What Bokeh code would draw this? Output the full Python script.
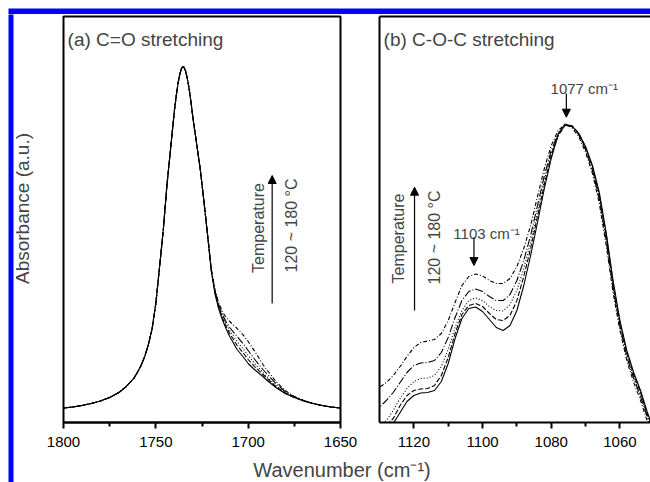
import math
from bokeh.plotting import figure
from bokeh.models import (Range1d, FixedTicker, Label, Arrow, NormalHead,
                          BoxAnnotation, LinearAxis, ColumnDataSource)
from bokeh.layouts import column, row
from bokeh.embed import file_html
from bokeh.resources import INLINE

FONT = "Liberation Sans"
BLUE = "#0000ff"

# ---------------- data: panel (a) C=O stretching ----------------
TEMPS = ["120 °C", "135 °C", "150 °C", "165 °C", "180 °C"]

WN_A_HEAD = [1800, 1795, 1790, 1785, 1780, 1775, 1770, 1766, 1762, 1760, 1758,
             1756, 1754, 1752, 1750, 1748, 1746, 1744, 1742, 1740, 1739, 1738,
             1737, 1736, 1735, 1734, 1733, 1732, 1731, 1730, 1728, 1726, 1724, 1722]
A_HEAD = [0.145, 0.155, 0.17, 0.19, 0.215, 0.25, 0.30, 0.36, 0.44, 0.50, 0.57,
          0.66, 0.78, 0.94, 1.19, 1.55, 1.92, 2.37, 2.74, 3.11, 3.26, 3.39,
          3.485, 3.545, 3.56, 3.52, 3.445, 3.34, 3.21, 3.06, 2.80, 2.54, 2.22, 1.88]

WN_A_SHOULDER = [1720, 1718, 1716, 1714, 1712, 1710, 1706, 1702, 1700, 1696,
                 1692, 1690, 1685, 1680, 1675, 1670]
A_SH_120 = [1.52, 1.29, 1.14, 1.03, 0.94, 0.86, 0.73, 0.64, 0.59, 0.52, 0.46, 0.425, 0.35, 0.29, 0.25, 0.215]
A_SH_135 = [1.52, 1.30, 1.155, 1.05, 0.965, 0.89, 0.77, 0.68, 0.63, 0.55, 0.48, 0.445, 0.36, 0.295, 0.25, 0.217]
A_SH_150 = [1.53, 1.31, 1.17, 1.07, 0.99, 0.92, 0.81, 0.72, 0.67, 0.58, 0.50, 0.46, 0.37, 0.30, 0.255, 0.218]
A_SH_165 = [1.53, 1.32, 1.18, 1.08, 1.01, 0.95, 0.86, 0.77, 0.72, 0.62, 0.53, 0.49, 0.39, 0.31, 0.255, 0.22]
A_SH_180 = [1.54, 1.33, 1.20, 1.11, 1.05, 1.01, 0.94, 0.86, 0.81, 0.70, 0.58, 0.53, 0.41, 0.32, 0.26, 0.22]

WN_A_TAIL = [1665, 1660, 1655, 1650]
A_TAIL = [0.19, 0.17, 0.155, 0.145]

# ---------------- data: panel (b) C-O-C stretching ----------------
WN_B = [1132, 1130, 1128, 1126, 1124, 1122, 1120, 1118, 1116, 1114, 1112, 1110,
        1108, 1106, 1104, 1102, 1100, 1098, 1096, 1094, 1092, 1090, 1088, 1086,
        1084, 1082, 1080, 1078, 1076, 1074, 1072, 1070, 1068, 1066, 1064, 1062,
        1060, 1058, 1056, 1054, 1052, 1050]
B_120 = [-0.28, -0.18, -0.08, -0.01, 0.10, 0.21, 0.27, 0.295, 0.30, 0.32, 0.41, 0.59,
         0.84, 1.04, 1.14, 1.155, 1.11, 1.03, 0.95, 0.92, 0.97, 1.12, 1.37, 1.67,
         2.00, 2.34, 2.64, 2.88, 2.985, 2.965, 2.89, 2.76, 2.57, 2.30, 1.90, 1.42,
         1.02, 0.72, 0.50, 0.32, 0.10, -0.08]
B_135 = [-0.18, -0.10, -0.03, 0.04, 0.17, 0.27, 0.32, 0.335, 0.34, 0.37, 0.47, 0.65,
         0.89, 1.08, 1.17, 1.19, 1.16, 1.09, 1.03, 1.02, 1.07, 1.22, 1.46, 1.74,
         2.06, 2.38, 2.67, 2.865, 2.97, 2.97, 2.895, 2.75, 2.555, 2.28, 1.875, 1.395,
         1.00, 0.70, 0.48, 0.30, 0.085, -0.10]
B_150 = [-0.12, -0.04, 0.02, 0.12, 0.24, 0.34, 0.41, 0.44, 0.445, 0.47, 0.56, 0.73,
         0.95, 1.12, 1.22, 1.245, 1.22, 1.16, 1.12, 1.115, 1.18, 1.32, 1.54, 1.80,
         2.11, 2.42, 2.69, 2.875, 2.97, 2.965, 2.89, 2.74, 2.54, 2.26, 1.85, 1.37,
         0.98, 0.68, 0.46, 0.28, 0.07, -0.12]
B_165 = [0.10, 0.153, 0.22, 0.30, 0.40, 0.50, 0.57, 0.595, 0.60, 0.62, 0.70, 0.85,
         1.05, 1.22, 1.31, 1.335, 1.31, 1.26, 1.22, 1.22, 1.28, 1.42, 1.62, 1.87,
         2.17, 2.47, 2.72, 2.89, 2.975, 2.96, 2.88, 2.73, 2.52, 2.23, 1.82, 1.34,
         0.96, 0.66, 0.44, 0.26, 0.05, -0.14]
B_180 = [0.31, 0.353, 0.40, 0.47, 0.56, 0.66, 0.75, 0.80, 0.815, 0.83, 0.89, 1.02,
         1.20, 1.37, 1.46, 1.485, 1.465, 1.42, 1.39, 1.39, 1.44, 1.56, 1.74, 1.97,
         2.26, 2.54, 2.77, 2.92, 2.98, 2.95, 2.86, 2.70, 2.49, 2.19, 1.77, 1.30,
         0.92, 0.62, 0.40, 0.22, 0.01, -0.18]

TICKS_A = [1800, 1750, 1700, 1650]
MINOR_A = [1775, 1725, 1675]
TICKS_B = [1120, 1100, 1080, 1060]
MINOR_B = [1110, 1090, 1070]

DASHES = ["solid", "5 2", "1 2", "8 2 1 2", "4 2 1 2"]


def strip(w, h):
    f = figure(width=w, height=h, x_range=Range1d(0, w), y_range=Range1d(0, h),
               output_backend="svg", toolbar_location=None, x_axis_type=None,
               y_axis_type=None, min_border=0)
    f.xgrid.visible = False
    f.ygrid.visible = False
    f.outline_line_color = None
    return f


def blue_box(left, right, bottom, top):
    return BoxAnnotation(left=left, right=right, bottom=bottom, top=top,
                         fill_color=BLUE, fill_alpha=1, line_alpha=0)


# ---------------- top strip (blue bar), full width ----------------
ft = strip(650, 14)
ft.add_layout(blue_box(8, 660, -2, 6))

# ---------------- left strip (blue bar + y label) ----------------
fy = strip(45, 468)
fy.add_layout(blue_box(8, 13, -5, 475))
fy.add_layout(Label(x=22.4, y=274, text="Absorbance (a.u.)", angle=math.pi / 2,
                    text_font=FONT, text_font_size="19px", text_align="center",
                    text_baseline="middle"))

# ---------------- panels ----------------
fa = figure(width=315, height=436, x_range=Range1d(1800, 1650), y_range=Range1d(0, 4.06),
            output_backend="svg", toolbar_location=None,
            min_border_left=18, min_border_right=20, min_border_top=2, min_border_bottom=28)
fb = figure(width=290, height=436, x_range=Range1d(1130, 1051.1), y_range=Range1d(0, 4.06),
            output_backend="svg", toolbar_location=None,
            min_border_left=19, min_border_right=0, min_border_top=2, min_border_bottom=28)

for p in (fa, fb):
    p.xgrid.visible = False
    p.ygrid.visible = False
    p.background_fill_color = "white"
    p.border_fill_color = "white"
    xa = p.xaxis[0]
    xa.axis_line_width = 2
    xa.major_tick_line_width = 2
    xa.minor_tick_line_width = 2
    xa.major_tick_in = 0
    xa.minor_tick_in = 0
    xa.major_tick_out = 6
    xa.minor_tick_out = 4
    xa.major_label_standoff = 8
    xa.major_label_text_font = FONT
    xa.major_label_text_font_size = "15px"
    xa.major_label_text_color = "black"

fa.xaxis[0].ticker = FixedTicker(ticks=TICKS_A, minor_ticks=MINOR_A)
fb.xaxis[0].ticker = FixedTicker(ticks=TICKS_B, minor_ticks=MINOR_B)

fa.yaxis.visible = False
fa.outline_line_color = "black"
fa.outline_line_width = 2
fa.outline_line_alpha = 1

fb.outline_line_color = None
ya = fb.yaxis[0]
ya.ticker = FixedTicker(ticks=[])
ya.axis_line_width = 2
ya.major_tick_out = 0
ya.minor_tick_out = 0
top_axis = LinearAxis(ticker=FixedTicker(ticks=[]), axis_line_width=2,
                      major_tick_out=0, minor_tick_out=0)
fb.add_layout(top_axis, "above")

# curves panel (a)
SH = [A_SH_120, A_SH_135, A_SH_150, A_SH_165, A_SH_180]
WN_A = WN_A_HEAD + WN_A_SHOULDER + WN_A_TAIL
for t, sh, dash in zip(TEMPS, SH, DASHES):
    src = ColumnDataSource(dict(x=WN_A, y=A_HEAD + sh + A_TAIL))
    fa.line("x", "y", source=src, line_color="black", line_width=1.1, line_dash=dash)

# curves panel (b)
for t, vals, dash in zip(TEMPS, [B_120, B_135, B_150, B_165, B_180], DASHES):
    src = ColumnDataSource(dict(x=WN_B, y=vals))
    fb.line("x", "y", source=src, line_color="black", line_width=1.1, line_dash=dash)

# titles
fa.add_layout(Label(x=1797.8, y=3.827, text="(a) C=O stretching", text_font=FONT,
                    text_font_size="19px", text_align="left", text_baseline="alphabetic"))
fb.add_layout(Label(x=1128.8, y=3.827, text="(b) C-O-C stretching", text_font=FONT,
                    text_font_size="19px", text_align="left", text_baseline="alphabetic"))


def head():
    return NormalHead(size=8, fill_color="black", line_color="black", line_width=1)


# temperature annotations
fa.add_layout(Arrow(x_start=1687, y_start=1.19, x_end=1687, y_end=2.47, end=head(),
                    line_color="black", line_width=1.2))
fa.add_layout(Label(x=1694.2, y=1.945, text="Temperature", angle=math.pi / 2,
                    text_font=FONT, text_font_size="16px", text_align="center",
                    text_baseline="middle"))
fa.add_layout(Label(x=1676.3, y=1.97, text="120 ~ 180 °C", angle=math.pi / 2,
                    text_font=FONT, text_font_size="16px", text_align="center",
                    text_baseline="middle"))

fb.add_layout(Arrow(x_start=1119.8, y_start=1.12, x_end=1119.8, y_end=2.353, end=head(),
                    line_color="black", line_width=1.2))
fb.add_layout(Label(x=1124.5, y=1.84, text="Temperature", angle=math.pi / 2,
                    text_font=FONT, text_font_size="16px", text_align="center",
                    text_baseline="middle"))
fb.add_layout(Label(x=1114.0, y=1.85, text="120 ~ 180 °C", angle=math.pi / 2,
                    text_font=FONT, text_font_size="16px", text_align="center",
                    text_baseline="middle"))

# peak markers
fb.add_layout(Label(x=1108.5, y=1.887, text="1103 cm⁻¹", text_font=FONT,
                    text_font_size="15px", text_align="left", text_baseline="alphabetic"))
fb.add_layout(Arrow(x_start=1102.5, y_start=1.85, x_end=1102.5, y_end=1.57, end=head(),
                    line_color="black", line_width=1.2))
fb.add_layout(Label(x=1080.2, y=3.34, text="1077 cm⁻¹", text_font=FONT,
                    text_font_size="15px", text_align="left", text_baseline="alphabetic"))
fb.add_layout(Arrow(x_start=1075.6, y_start=3.29, x_end=1075.6, y_end=3.053, end=head(),
                    line_color="black", line_width=1.2))

# ---------------- bottom strip with shared x label ----------------
fl = strip(605, 32)
fl.add_layout(Label(x=296.5, y=12.3, text="Wavenumber (cm⁻¹)", text_font=FONT,
                    text_font_size="20px", text_align="center", text_baseline="alphabetic"))

layout = column(ft, row(fy, column(row(fa, fb), fl)))
open("out.html", "w").write(file_html(layout, INLINE))
